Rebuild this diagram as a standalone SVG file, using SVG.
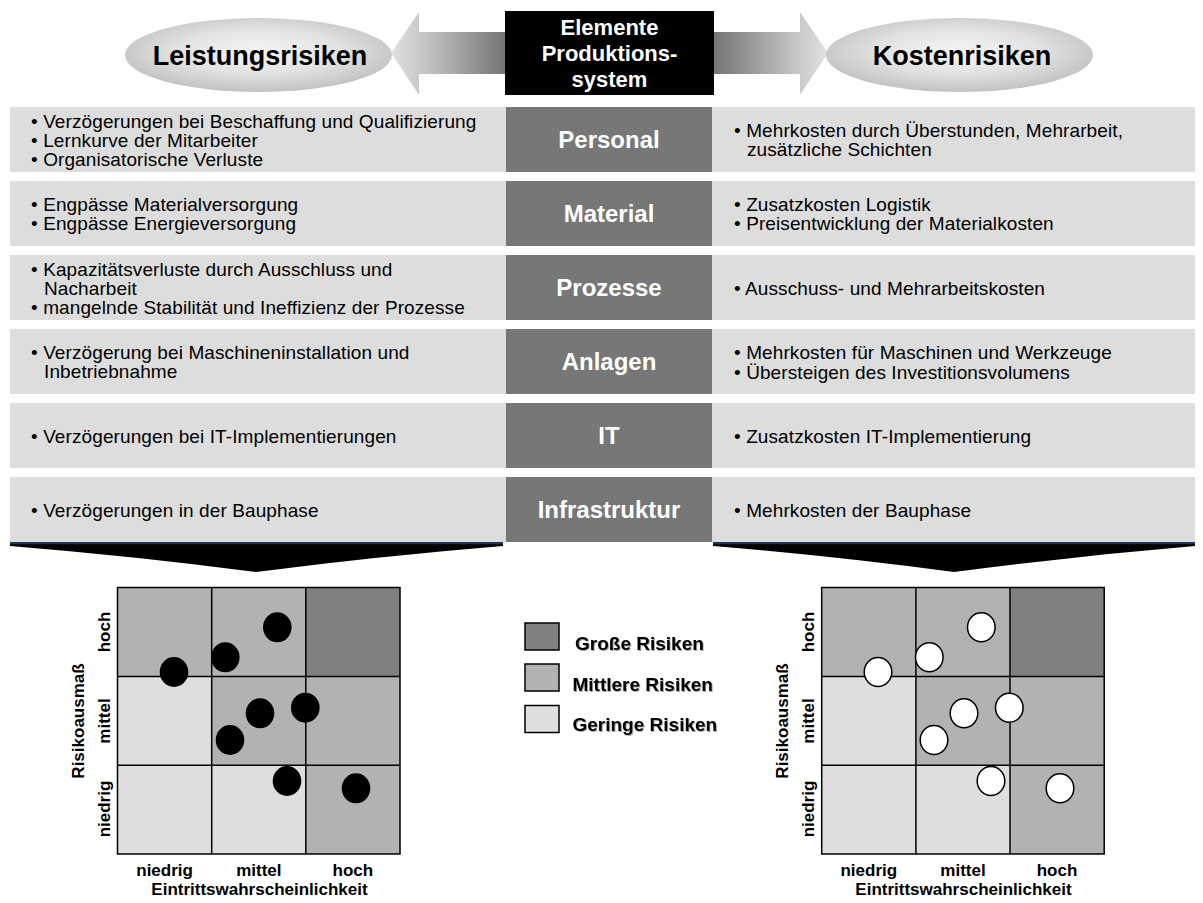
<svg xmlns="http://www.w3.org/2000/svg" width="1203" height="903" viewBox="0 0 1203 903">
<defs>
<radialGradient id="ellG" cx="50%" cy="45%" r="55%">
<stop offset="0" stop-color="#f6f6f6"/>
<stop offset="0.55" stop-color="#e2e2e2"/>
<stop offset="1" stop-color="#c2c2c2"/>
</radialGradient>
<linearGradient id="arrL" gradientUnits="userSpaceOnUse" x1="391" y1="0" x2="506" y2="0">
<stop offset="0" stop-color="#e2e2e2"/>
<stop offset="0.3" stop-color="#c4c4c4"/>
<stop offset="1" stop-color="#747474"/>
</linearGradient>
<linearGradient id="arrR" gradientUnits="userSpaceOnUse" x1="828" y1="0" x2="713" y2="0">
<stop offset="0" stop-color="#e2e2e2"/>
<stop offset="0.3" stop-color="#c4c4c4"/>
<stop offset="1" stop-color="#747474"/>
</linearGradient>
<filter id="sh" x="-10%" y="-30%" width="120%" height="160%">
<feDropShadow dx="1" dy="1" stdDeviation="0.6" flood-color="#000" flood-opacity="0.35"/>
</filter>
</defs>
<style>
.panel{fill:#dddddd}
.cat{fill:#777777}
.catt{font-family:"Liberation Sans",Arial,sans-serif;font-weight:bold;font-size:24px;fill:#ffffff;text-anchor:middle}
.item{font-family:"Liberation Sans",Arial,sans-serif;font-size:19px;letter-spacing:0.1px;fill:#000}
.title{font-family:"Liberation Sans",Arial,sans-serif;font-weight:bold;font-size:27px;fill:#000;text-anchor:middle}
.ctr{font-family:"Liberation Sans",Arial,sans-serif;font-weight:bold;font-size:22px;fill:#fff;text-anchor:middle}
.hi{fill:#808080}
.mid{fill:#b2b2b2}
.lo{fill:#dedede}
.grid{fill:none;stroke:#000;stroke-width:1.5}
.ax{font-family:"Liberation Sans",Arial,sans-serif;font-weight:bold;font-size:17px;fill:#000;text-anchor:middle}
.dotb{fill:#000}
.dotw{fill:#fff;stroke:#000;stroke-width:1.5}
.leg{font-family:"Liberation Sans",Arial,sans-serif;font-weight:bold;font-size:19px;fill:#000}
.legbox{stroke:#000;stroke-width:1.5}
.wedge{fill:#000}
.wline{stroke:#1c3560;stroke-width:2.5}
</style>
<rect width="1203" height="903" fill="#fff"/>

<g id="connectors">
<path d="M391,53 L419,12 L419,32 L506,32 L506,74 L419,74 L419,95 Z" fill="url(#arrL)"/>
<path d="M828,53 L800,12 L800,32 L713,32 L713,74 L800,74 L800,95 Z" fill="url(#arrR)"/>
<path class="wedge" d="M10,543 L503,543 L503,546 Q380,556 256,572 Q133,556 10,546 Z"/>
<line class="wline" x1="10" y1="543" x2="503" y2="543"/>
<path class="wedge" d="M713,543 L1195,543 L1195,546 Q1075,556 954,572 Q834,556 713,546 Z"/>
<line class="wline" x1="713" y1="543" x2="1195" y2="543"/>
</g>

<g id="leistungsrisiken">
<ellipse cx="258.5" cy="55" rx="133.5" ry="37" fill="url(#ellG)"/>
<text class="title" x="260" y="64.5">Leistungsrisiken</text>
</g>
<g id="kostenrisiken">
<ellipse cx="959.5" cy="55" rx="133.5" ry="37" fill="url(#ellG)"/>
<text class="title" x="962" y="64.5">Kostenrisiken</text>
</g>
<g id="elemente">
<rect x="505" y="11" width="209" height="84" fill="#000"/>
<text class="ctr" x="609.5" y="35">Elemente</text>
<text class="ctr" x="609.5" y="61">Produktions-</text>
<text class="ctr" x="609.5" y="87">system</text>
</g>

<g id="row-personal">
<rect class="panel" x="10" y="107" width="1185" height="65"/>
<rect class="cat" x="506" y="107" width="206" height="65"/>
<text class="catt" x="609" y="148">Personal</text>
<text class="item" x="31" y="127.5">• Verzögerungen bei Beschaffung und Qualifizierung</text>
<text class="item" x="31" y="146.5">• Lernkurve der Mitarbeiter</text>
<text class="item" x="31" y="165.5">• Organisatorische Verluste</text>
<text class="item" x="734" y="137">• Mehrkosten durch Überstunden, Mehrarbeit,</text>
<text class="item" x="747" y="156">zusätzliche Schichten</text>
</g>
<g id="row-material">
<rect class="panel" x="10" y="181" width="1185" height="65"/>
<rect class="cat" x="506" y="181" width="206" height="65"/>
<text class="catt" x="609" y="222">Material</text>
<text class="item" x="31" y="211">• Engpässe Materialversorgung</text>
<text class="item" x="31" y="230">• Engpässe Energieversorgung</text>
<text class="item" x="734" y="211">• Zusatzkosten Logistik</text>
<text class="item" x="734" y="230">• Preisentwicklung der Materialkosten</text>
</g>
<g id="row-prozesse">
<rect class="panel" x="10" y="255" width="1185" height="65"/>
<rect class="cat" x="506" y="255" width="206" height="65"/>
<text class="catt" x="609" y="296">Prozesse</text>
<text class="item" x="31" y="275.5">• Kapazitätsverluste durch Ausschluss und</text>
<text class="item" x="44" y="294.5">Nacharbeit</text>
<text class="item" x="31" y="313.5">• mangelnde Stabilität und Ineffizienz der Prozesse</text>
<text class="item" x="734" y="294.5">• Ausschuss- und Mehrarbeitskosten</text>
</g>
<g id="row-anlagen">
<rect class="panel" x="10" y="329" width="1185" height="65"/>
<rect class="cat" x="506" y="329" width="206" height="65"/>
<text class="catt" x="609" y="370">Anlagen</text>
<text class="item" x="31" y="359">• Verzögerung bei Maschineninstallation und</text>
<text class="item" x="44" y="378">Inbetriebnahme</text>
<text class="item" x="734" y="358.5">• Mehrkosten für Maschinen und Werkzeuge</text>
<text class="item" x="734" y="378.5">• Übersteigen des Investitionsvolumens</text>
</g>
<g id="row-it">
<rect class="panel" x="10" y="403" width="1185" height="65"/>
<rect class="cat" x="506" y="403" width="206" height="65"/>
<text class="catt" x="609" y="444">IT</text>
<text class="item" x="31" y="442.5">• Verzögerungen bei IT-Implementierungen</text>
<text class="item" x="734" y="442.5">• Zusatzkosten IT-Implementierung</text>
</g>
<g id="row-infrastruktur">
<rect class="panel" x="10" y="477" width="1185" height="65"/>
<rect class="cat" x="506" y="477" width="206" height="65"/>
<text class="catt" x="609" y="518">Infrastruktur</text>
<text class="item" x="31" y="516.5">• Verzögerungen in der Bauphase</text>
<text class="item" x="734" y="516.5">• Mehrkosten der Bauphase</text>
</g>

<g id="matrix-leistung">
<rect class="mid" x="117.5" y="587.5" width="94.2" height="89"/>
<rect class="mid" x="211.7" y="587.5" width="94.1" height="89"/>
<rect class="hi" x="305.8" y="587.5" width="94.2" height="89"/>
<rect class="lo" x="117.5" y="676.5" width="94.2" height="88.7"/>
<rect class="mid" x="211.7" y="676.5" width="94.1" height="88.7"/>
<rect class="mid" x="305.8" y="676.5" width="94.2" height="88.7"/>
<rect class="lo" x="117.5" y="765.2" width="94.2" height="88.8"/>
<rect class="lo" x="211.7" y="765.2" width="94.1" height="88.8"/>
<rect class="mid" x="305.8" y="765.2" width="94.2" height="88.8"/>
<path class="grid" d="M117.5,587.5 H400 V854 H117.5 Z M211.7,587.5 V854 M305.8,587.5 V854 M117.5,676.5 H400 M117.5,765.2 H400"/>
<ellipse class="dotb" cx="277.3" cy="627.3" rx="14.3" ry="15"/>
<ellipse class="dotb" cx="225.3" cy="657.3" rx="14.3" ry="15"/>
<ellipse class="dotb" cx="174" cy="672" rx="14.3" ry="15"/>
<ellipse class="dotb" cx="260" cy="713.3" rx="14.3" ry="15"/>
<ellipse class="dotb" cx="305.3" cy="707.7" rx="14.3" ry="15"/>
<ellipse class="dotb" cx="230" cy="740" rx="14.3" ry="15"/>
<ellipse class="dotb" cx="287" cy="781" rx="14.3" ry="15"/>
<ellipse class="dotb" cx="356" cy="788.3" rx="14.3" ry="15"/>
<text class="ax" transform="translate(109.5,632) rotate(-90)">hoch</text>
<text class="ax" transform="translate(109.5,721) rotate(-90)">mittel</text>
<text class="ax" transform="translate(109.5,809) rotate(-90)">niedrig</text>
<text class="ax" transform="translate(84,721) rotate(-90)">Risikoausmaß</text>
<text class="ax" x="164.6" y="876">niedrig</text>
<text class="ax" x="258.8" y="876">mittel</text>
<text class="ax" x="352.9" y="876">hoch</text>
<text class="ax" x="259.5" y="895">Eintrittswahrscheinlichkeit</text>
</g>

<g id="legende">
<rect class="legbox hi" x="525" y="623" width="34" height="27"/>
<rect class="legbox mid" x="525" y="664" width="34" height="27"/>
<rect class="legbox lo" x="525" y="705.5" width="34" height="27"/>
<text class="leg" x="575" y="650" filter="url(#sh)">Große Risiken</text>
<text class="leg" x="572.5" y="691" filter="url(#sh)">Mittlere Risiken</text>
<text class="leg" x="572.5" y="731" filter="url(#sh)">Geringe Risiken</text>
</g>

<g id="matrix-kosten">
<rect class="mid" x="821.7" y="587.5" width="94.2" height="89"/>
<rect class="mid" x="915.9" y="587.5" width="94.1" height="89"/>
<rect class="hi" x="1010" y="587.5" width="94.2" height="89"/>
<rect class="lo" x="821.7" y="676.5" width="94.2" height="88.7"/>
<rect class="mid" x="915.9" y="676.5" width="94.1" height="88.7"/>
<rect class="mid" x="1010" y="676.5" width="94.2" height="88.7"/>
<rect class="lo" x="821.7" y="765.2" width="94.2" height="88.8"/>
<rect class="lo" x="915.9" y="765.2" width="94.1" height="88.8"/>
<rect class="mid" x="1010" y="765.2" width="94.2" height="88.8"/>
<path class="grid" d="M821.7,587.5 H1104.2 V854 H821.7 Z M915.9,587.5 V854 M1010,587.5 V854 M821.7,676.5 H1104.2 M821.7,765.2 H1104.2"/>
<ellipse class="dotw" cx="981.3" cy="627.3" rx="13.8" ry="14.5"/>
<ellipse class="dotw" cx="929.3" cy="657.3" rx="13.8" ry="14.5"/>
<ellipse class="dotw" cx="878" cy="672" rx="13.8" ry="14.5"/>
<ellipse class="dotw" cx="964" cy="713.3" rx="13.8" ry="14.5"/>
<ellipse class="dotw" cx="1009.3" cy="707.7" rx="13.8" ry="14.5"/>
<ellipse class="dotw" cx="934" cy="740" rx="13.8" ry="14.5"/>
<ellipse class="dotw" cx="991" cy="781" rx="13.8" ry="14.5"/>
<ellipse class="dotw" cx="1060" cy="788.3" rx="13.8" ry="14.5"/>
<text class="ax" transform="translate(813.5,632) rotate(-90)">hoch</text>
<text class="ax" transform="translate(813.5,721) rotate(-90)">mittel</text>
<text class="ax" transform="translate(813.5,809) rotate(-90)">niedrig</text>
<text class="ax" transform="translate(788,721) rotate(-90)">Risikoausmaß</text>
<text class="ax" x="868.8" y="876">niedrig</text>
<text class="ax" x="963" y="876">mittel</text>
<text class="ax" x="1057" y="876">hoch</text>
<text class="ax" x="963.5" y="895">Eintrittswahrscheinlichkeit</text>
</g>
</svg>
